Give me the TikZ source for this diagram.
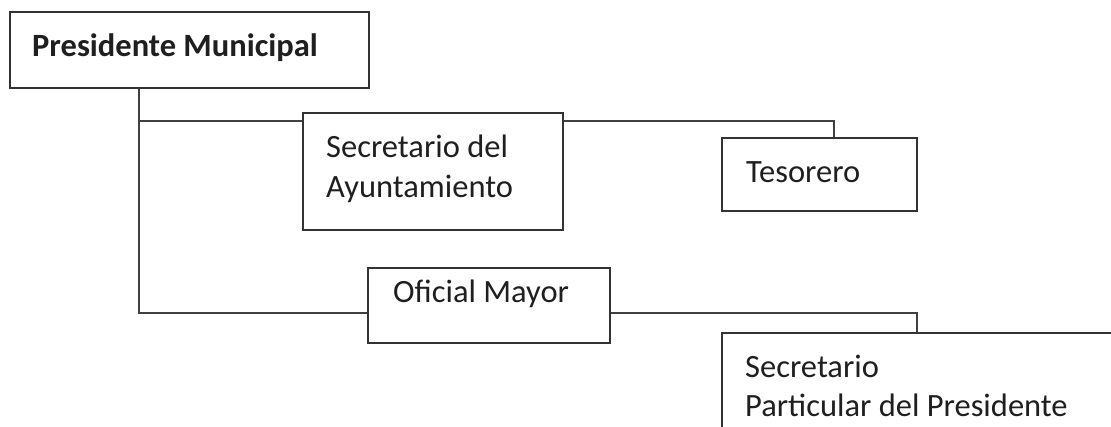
\documentclass[tikz,border=0pt]{standalone}
\usepackage{fontspec}
\setmainfont{Carlito}
\usepackage{tikz}
\usetikzlibrary{calc}

\begin{document}
\begin{tikzpicture}[x=1pt, y=1pt,
		box/.style={draw=black!80, line width=1.4pt, fill=white, inner sep=0pt},
		link/.style={draw=black!75, line width=1.2pt},
		lbl/.style={anchor=base west, inner sep=0pt, text=black!88, align=left,
			font=\fontsize{32.5}{40}\selectfont}]
		%%%%% START %%%%%
		
		\useasboundingbox (0, 0) rectangle (1111, 427);
		\clip (0, 0) rectangle (1111, 427);
		
		% cajas
		\node[box, minimum width=359, minimum height=76] (pres) at (189.5, 377) {};
		\node[box, minimum width=260, minimum height=117] (secA) at (433, 255.5) {};
		\node[box, minimum width=195, minimum height=73] (tes) at (819.5, 252.5) {};
		\node[box, minimum width=242, minimum height=75] (ofi) at (489, 121.5) {};
		\node[box, minimum width=418, minimum height=114] (part) at (931, 37) {};
		
		% textos
		\node[lbl, font=\fontsize{32.5}{40}\selectfont\bfseries] (pres-t) at (32, 370) {Presidente Municipal};
		\node[lbl] (secA-t) at (326, 269) {Secretario del};
		\node[lbl] (secA-t2) at (326, 229) {Ayuntamiento};
		\node[lbl] (tes-t) at (746, 244) {Tesorero};
		\node[lbl] (ofi-t) at (393, 124) {Oficial Mayor};
		\node[lbl] (part-t) at (745, 49) {Secretario};
		\node[lbl] (part-t2) at (745, 10) {Particular del Presidente};
		
		% lineas
		\coordinate (upper) at (139, 306);
		\coordinate (trunk) at (139, 114);
		\coordinate (tesjoin) at (834, 306);
		\coordinate (partjoin) at (917, 114);
		
		\draw[link] (pres.south -| trunk) -- (trunk) -- (trunk -| ofi.west);
		\draw[link] (upper) -- (upper -| secA.west);
		\draw[link] (upper -| secA.east) -- (tesjoin) -- (tesjoin |- tes.north);
		\draw[link] (trunk -| ofi.east) -- (partjoin) -- (partjoin |- part.north);
		
		%%%%% END %%%%%
	\end{tikzpicture}
\end{document}
